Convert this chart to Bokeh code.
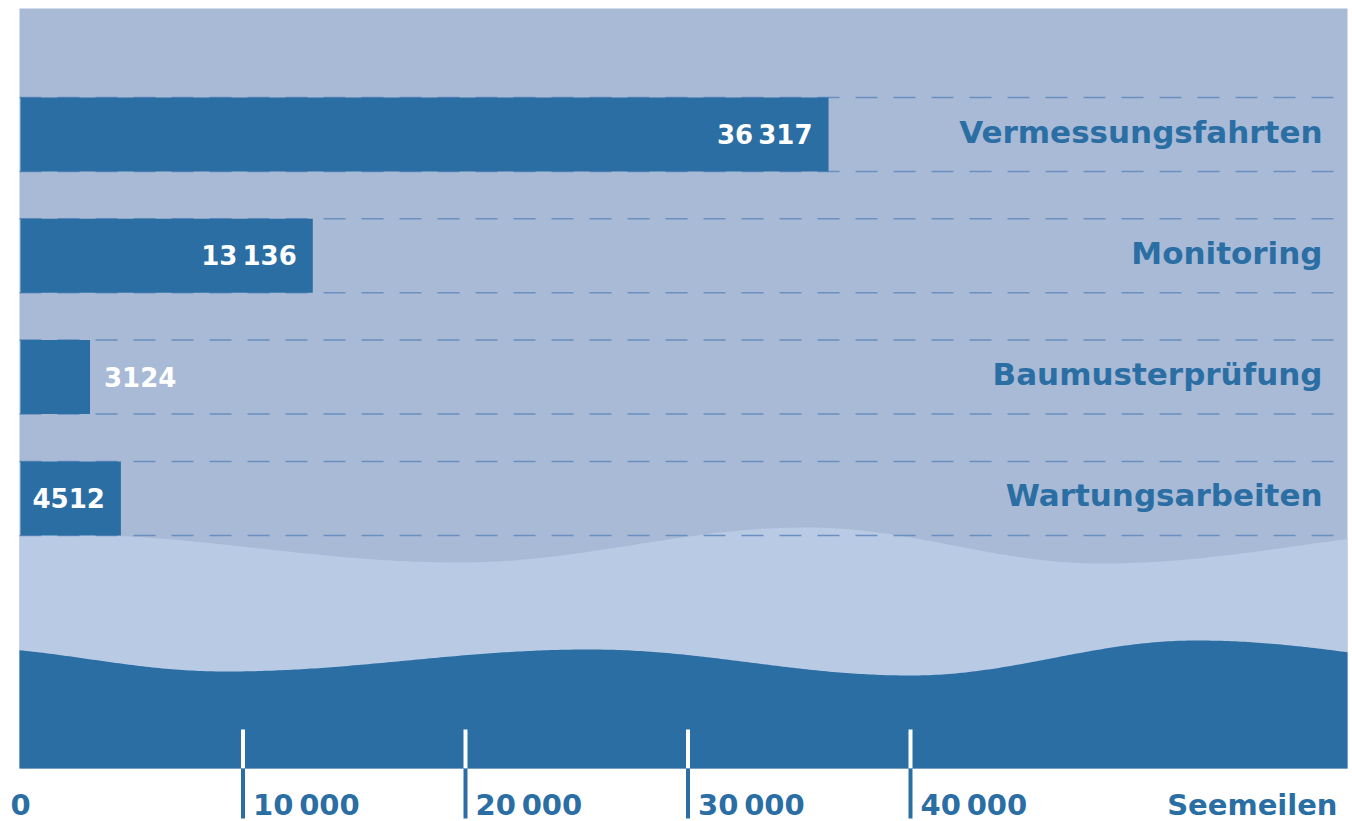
import math
from bokeh.plotting import figure
from bokeh.models import Range1d, ColumnDataSource
from bokeh.core.properties import value
from bokeh.embed import file_html
from bokeh.resources import INLINE

# ---------------- data ----------------
categories = ["Vermessungsfahrten", "Monitoring", "Baumusterprüfung", "Wartungsarbeiten"]
seemeilen = [36317, 13136, 3124, 4512]
tick_values = [0, 10000, 20000, 30000, 40000]
tick_labels = ["0", "10\u2009000", "20\u2009000", "30\u2009000", "40\u2009000"]
unit_label = "Seemeilen"

# decorative sea waves: extremes (x in Seemeilen, y in px from top)
wave_light_x = [-5000, 1800, 19730, 35326, 48539, 66517]
wave_light_y = [534, 534, 562, 527, 563, 527]
wave_dark_x = [-5000, -3146, 9213, 25573, 40000, 52854, 69213]
wave_dark_y = [646, 646, 671, 649, 675, 640, 672]

# ---------------- layout / style ----------------
W, H = 1352, 821
X0_PX = 20
PX_PER_UNIT = 0.02225
x_start = -X0_PX / PX_PER_UNIT
x_end = (W - X0_PX) / PX_PER_UNIT

def px_to_x(px):
    return (px - X0_PX) / PX_PER_UNIT

BAR_TOP = 97
ROW_STEP = 121.3
BAR_H = 74
PANEL_TOP = 8
PANEL_BOTTOM = 768
PANEL_LEFT = px_to_x(19)
PANEL_RIGHT = px_to_x(1347)

BG = "#a9bad7"
LIGHT = "#b9cae4"
DARK = "#2a6ea4"
DASH = "#6a8fc0"
FONT = value("DejaVu Sans")

def fmt(v):
    s = str(v)
    if v >= 10000:
        s = s[:-3] + "\u2009" + s[-3:]
    return s

def smooth(xk, yk, n=400):
    xs, ys = [], []
    lo, hi = PANEL_LEFT, PANEL_RIGHT
    for i in range(n + 1):
        x = lo + (hi - lo) * i / n
        for j in range(len(xk) - 1):
            if xk[j] <= x <= xk[j + 1]:
                t = (x - xk[j]) / (xk[j + 1] - xk[j])
                y = yk[j] + (yk[j + 1] - yk[j]) * (1 - math.cos(math.pi * t)) / 2
                break
        xs.append(x)
        ys.append(y)
    return xs, ys

p = figure(width=W, height=H, x_range=Range1d(x_start, x_end), y_range=Range1d(H, 0),
           x_axis_type=None, y_axis_type=None, toolbar_location=None,
           output_backend="svg", min_border=0, outline_line_color=None,
           background_fill_color="white", border_fill_color="white")
p.grid.visible = False

# panel background
p.quad(left=[PANEL_LEFT], right=[PANEL_RIGHT], top=[PANEL_TOP], bottom=[PANEL_BOTTOM],
       fill_color=BG, line_color=None)

# waves
lx, ly = smooth(wave_light_x, wave_light_y)
p.patch(lx + [PANEL_RIGHT, PANEL_LEFT], ly + [PANEL_BOTTOM, PANEL_BOTTOM],
        fill_color=LIGHT, line_color=None)
dx, dy = smooth(wave_dark_x, wave_dark_y)
p.patch(dx + [PANEL_RIGHT, PANEL_LEFT], dy + [PANEL_BOTTOM, PANEL_BOTTOM],
        fill_color=DARK, line_color=None)

# bars
centers = [BAR_TOP + BAR_H / 2 + i * ROW_STEP for i in range(len(categories))]
edges = []
for c in centers:
    edges += [c - BAR_H / 2, c + BAR_H / 2]
p.segment(x0=[PANEL_LEFT] * len(edges), x1=[PANEL_RIGHT] * len(edges), y0=edges, y1=edges,
          line_color=DASH, line_width=1.5, line_dash="22 16")

src = ColumnDataSource(dict(y=centers, v=seemeilen, cat=categories))
p.hbar(y="y", left=0, right="v", height=BAR_H, source=src, fill_color=DARK, line_color=None)

# value labels
VAL_SIZE = 26
in_x, in_y, in_t, out_x, out_y, out_t = [], [], [], [], [], []
for v, c in zip(seemeilen, centers):
    txt = fmt(v)
    width_px = len(txt) * 0.7 * VAL_SIZE
    if v * PX_PER_UNIT > width_px + 24:
        in_x.append(v); in_y.append(c); in_t.append(txt)
    else:
        out_x.append(v); out_y.append(c); out_t.append(txt)
p.text(x=in_x, y=in_y, text=in_t, x_offset=-16, text_align="right", text_baseline="middle",
       text_color="white", text_font=FONT, text_font_style="bold", text_font_size=f"{VAL_SIZE}px")
p.text(x=out_x, y=out_y, text=out_t, x_offset=14, text_align="left", text_baseline="middle",
       text_color="white", text_font=FONT, text_font_style="bold", text_font_size=f"{VAL_SIZE}px")

# category labels
p.text(x=[px_to_x(1322)] * len(categories), y=centers, text=categories, text_align="right",
       text_baseline="middle", y_offset=-3, text_color=DARK, text_font=FONT,
       text_font_style="bold", text_font_size="31px")

# axis ticks
tx = tick_values[1:]
p.segment(x0=tx, x1=tx, y0=[729] * len(tx), y1=[PANEL_BOTTOM] * len(tx),
          line_color="white", line_width=4)
p.segment(x0=tx, x1=tx, y0=[PANEL_BOTTOM] * len(tx), y1=[818] * len(tx),
          line_color=DARK, line_width=4)

offsets = [-10 if t == 0 else 10 for t in tick_values]
tsrc = ColumnDataSource(dict(x=tick_values, y=[804] * len(tick_values), t=tick_labels, o=offsets))
p.text(x="x", y="y", text="t", x_offset="o", source=tsrc, text_align="left",
       text_baseline="middle", text_color=DARK, text_font=FONT, text_font_style="bold",
       text_font_size="29px")
p.text(x=[px_to_x(1337)], y=[804], text=[unit_label], text_align="right",
       text_baseline="middle", text_color=DARK, text_font=FONT, text_font_style="bold",
       text_font_size="29px")

open("out.html", "w").write(file_html(p, INLINE))
